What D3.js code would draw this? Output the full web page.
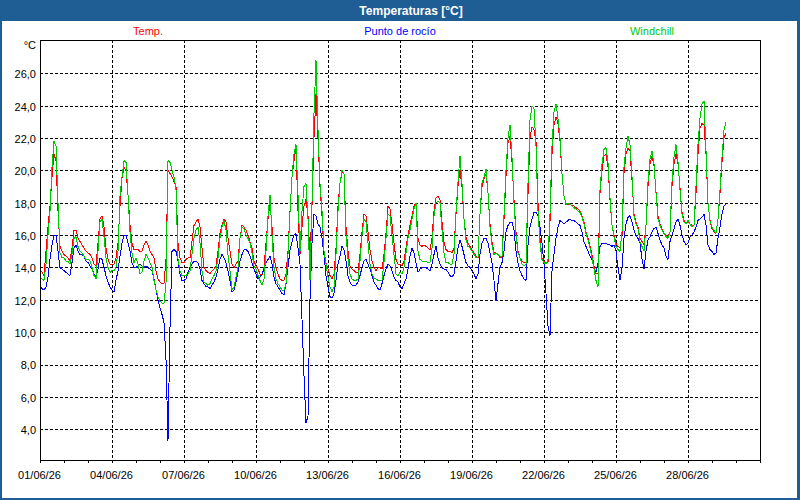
<!DOCTYPE html>
<html>
<head>
<meta charset="utf-8">
<script src="https://cdn.jsdelivr.net/npm/d3@7"></script>
<style>
  body { margin: 0; background: #fff; }
  svg { display: block; font-family: "Liberation Sans", Arial, sans-serif; }
</style>
</head>
<body>
<div id="chart"></div>
<script>
const width = 800;
const height = 500;
const plot = {left: 40, top: 40, right: 760, bottom: 460};

// readings every 2 hours, starting 01/06/26 00:00
const startDate = new Date(2026, 5, 1);
const endDate = new Date(2026, 6, 1);
const stepHours = 2;

const tickDays = [1, 4, 7, 10, 13, 16, 19, 22, 25, 28];
const yTicks = [4, 6, 8, 10, 12, 14, 16, 18, 20, 22, 24, 26];
const seriesNames = ["Temp.", "Punto de rocío", "Windchill"];

const temp = [
  13.9, 13.7, 13.5, 15.0, 16.5, 17.8, 19.6, 21.0, 20.6, 17.5, 15.3, 15.0,
  14.8, 14.7, 14.6, 14.4, 15.2, 16.3, 16.3, 15.8, 15.6, 15.4, 15.2, 15.0,
  14.9, 14.8, 14.6, 14.2, 14.1, 15.5, 17.0, 17.2, 16.5, 15.2, 14.5, 14.2,
  14.2, 14.2, 14.6, 15.5, 17.8, 19.5, 20.2, 20.0, 18.5, 16.6, 15.5, 15.1,
  15.1, 15.1, 15.0, 15.0, 15.4, 15.6, 15.4, 15.0, 14.8, 14.6, 13.8, 13.3,
  13.1, 13.0, 13.0, 14.5, 20.0, 19.8, 19.6, 19.3, 19.0, 15.5, 14.6, 14.3,
  14.3, 14.5, 14.6, 14.6, 15.6, 16.6, 16.8, 17.0, 16.5, 15.2, 14.0, 13.8,
  13.7, 13.6, 13.8, 13.9, 14.1, 15.0, 16.1, 16.6, 17.0, 16.8, 15.8, 15.0,
  14.2, 14.0, 14.2, 14.4, 15.8, 16.6, 16.5, 16.3, 16.0, 15.6, 15.2, 14.4,
  14.1, 13.9, 13.6, 13.5, 14.0, 15.5, 17.0, 18.0, 16.5, 14.6, 14.0, 13.6,
  13.3, 13.2, 13.2, 13.6, 15.0, 17.5, 19.6, 20.6, 21.4, 17.5, 14.8, 16.5,
  17.8, 18.2, 17.2, 14.6, 17.8, 22.0, 24.7, 22.0, 19.0, 17.2, 15.0, 14.3,
  13.9, 13.5, 13.3, 13.6, 15.2, 17.8, 19.2, 19.9, 19.8, 16.5, 15.0, 14.1,
  13.9, 13.8, 13.7, 13.7, 14.8, 16.2, 17.3, 17.2, 16.2, 15.1, 14.4, 14.0,
  13.8, 14.0, 14.0, 13.9, 14.8, 16.1, 17.8, 17.6, 16.7, 15.5, 14.5, 14.2,
  14.2, 14.1, 14.4, 15.2, 16.0, 16.6, 17.2, 17.8, 18.0, 15.8, 15.4, 15.3,
  15.4, 15.3, 15.2, 15.1, 15.8, 17.5, 18.3, 18.4, 18.2, 16.8, 15.6, 15.1,
  15.0, 15.0, 14.9, 15.2, 17.3, 19.0, 20.0, 19.0, 17.0, 15.9, 15.5, 15.3,
  15.1, 14.9, 14.7, 14.6, 17.3, 19.0, 19.5, 19.8, 18.6, 16.7, 15.6, 14.9,
  14.9, 14.8, 14.6, 14.6, 17.0, 19.6, 21.7, 22.1, 20.5, 18.2, 16.2, 15.0,
  14.6, 14.4, 14.3, 14.3, 18.5, 22.0, 22.7, 22.5, 21.8, 18.0, 15.8, 14.6,
  14.4, 14.3, 14.3, 16.8, 21.0, 22.8, 23.3, 22.9, 21.8, 19.8, 18.4, 17.9,
  17.9, 17.9, 17.8, 17.8, 17.7, 17.6, 17.5, 17.2, 16.8, 16.2, 15.8, 15.3,
  14.8, 14.1, 13.6, 13.6, 18.6, 20.0, 20.9, 21.0, 20.2, 18.2, 16.6, 16.0,
  15.5, 15.3, 15.2, 16.0, 19.8, 21.0, 21.4, 21.2, 19.4, 17.3, 16.8, 16.5,
  15.8, 15.6, 15.4, 16.6, 19.0, 20.4, 20.9, 20.3, 18.7, 17.2, 16.7, 16.4,
  16.1, 16.0, 15.9, 16.2, 19.0, 20.4, 21.0, 20.4, 18.9, 17.4, 16.9, 16.7,
  16.8, 16.7, 16.6, 16.6, 18.6, 21.0, 22.6, 22.9, 22.8, 21.0, 18.0, 16.9,
  16.4, 16.2, 16.1, 17.0, 18.6, 20.5, 22.0, 22.3
];

const dewPoint = [
  12.9, 12.7, 12.6, 12.8, 13.4, 14.5, 15.4, 16.0, 16.0, 15.0, 14.0, 13.9,
  13.8, 13.7, 13.6, 13.5, 14.3, 15.2, 15.4, 15.0, 14.8, 14.8, 14.7, 14.4,
  14.3, 14.1, 13.9, 13.6, 13.4, 13.9, 14.6, 14.5, 14.0, 13.5, 13.1, 12.8,
  12.6, 12.5, 13.2, 13.8, 14.7, 15.5, 16.0, 16.0, 15.5, 15.0, 14.3, 14.0,
  14.0, 14.1, 14.2, 14.1, 14.0, 14.1, 14.0, 13.9, 13.8, 13.3, 12.6, 12.0,
  11.5, 11.1, 10.6, 8.3, 3.3, 10.3, 15.0, 15.1, 15.0, 14.4, 13.6, 13.2,
  13.2, 13.3, 13.7, 14.0, 14.2, 14.4, 14.4, 14.3, 13.9, 13.2, 13.0, 12.8,
  12.8, 12.7, 12.9, 13.1, 13.4, 13.9, 14.5, 14.8, 14.6, 14.3, 13.8, 13.2,
  12.5, 12.6, 13.1, 13.7, 14.4, 14.8, 15.1, 15.1, 15.0, 14.7, 14.3, 13.9,
  13.6, 13.3, 13.4, 13.6, 13.9, 14.3, 14.5, 14.7, 14.2, 13.4, 13.0, 12.8,
  12.6, 12.4, 12.3, 13.0, 14.0, 15.1, 15.6, 16.0, 16.1, 15.2, 14.2, 10.8,
  7.3, 4.4, 4.8, 12.0, 15.5, 17.3, 17.2, 16.7, 16.5, 15.8, 14.8, 13.5,
  12.8, 12.2, 12.1, 12.4, 13.2, 14.2, 14.7, 15.3, 15.1, 14.4, 13.5, 13.1,
  12.9, 12.9, 12.9, 13.1, 13.5, 14.0, 14.4, 14.5, 14.2, 13.9, 13.5, 13.1,
  12.9, 12.7, 12.6, 13.0, 13.5, 13.9, 14.2, 14.1, 13.8, 13.4, 13.2, 13.1,
  12.8, 12.7, 13.0, 13.3, 13.9, 14.7, 15.2, 14.9, 14.3, 13.7, 13.9, 14.0,
  14.0, 14.0, 13.9, 13.8, 14.2, 14.8, 15.3, 14.6, 14.2, 14.0, 13.9, 13.9,
  13.7, 13.5, 13.4, 13.6, 14.4, 15.2, 15.7, 15.3, 14.8, 14.3, 14.1, 14.0,
  13.8, 13.6, 13.3, 13.6, 14.8, 15.5, 15.8, 15.8, 15.5, 14.9, 14.3, 13.2,
  11.9, 13.0, 14.0, 14.3, 15.0, 16.2, 16.6, 16.8, 16.8, 16.3, 15.0, 14.3,
  13.8, 13.5, 13.3, 13.2, 15.4, 16.5, 17.0, 17.4, 17.4, 17.2, 16.5, 15.5,
  14.2, 12.4, 10.4, 9.8, 13.8, 14.8, 15.8, 16.5, 16.9, 16.8, 16.7, 16.8,
  16.9, 17.0, 16.9, 16.9, 16.8, 16.7, 16.6, 16.2, 15.6, 15.3, 15.0, 14.7,
  14.5, 13.9, 13.7, 14.3, 15.3, 15.5, 15.5, 15.5, 15.4, 15.4, 15.3, 15.4,
  15.0, 14.0, 13.2, 14.0, 15.8, 16.7, 17.1, 17.2, 16.8, 16.3, 16.0, 15.8,
  15.5, 14.5, 13.9, 15.0, 15.7, 15.9, 16.2, 16.4, 16.5, 16.1, 15.7, 15.4,
  15.2, 14.7, 14.5, 15.6, 16.0, 16.4, 16.8, 17.0, 16.6, 16.0, 15.6, 15.4,
  15.5, 15.9, 16.0, 16.2, 16.5, 16.9, 17.0, 17.1, 17.3, 16.6, 15.4, 15.1,
  15.0, 14.8, 14.9, 15.8, 16.5, 17.3, 17.8, 17.9
];

const windchill = [
  13.4, 13.3, 13.2, 14.2, 16.0, 17.5, 20.2, 21.8, 21.5, 18.0, 14.9, 14.6,
  14.6, 14.4, 14.4, 14.2, 14.8, 15.8, 15.9, 15.3, 15.0, 14.9, 14.7, 14.5,
  14.5, 14.4, 14.0, 13.5, 13.3, 15.0, 16.8, 17.0, 15.9, 14.6, 14.0, 13.7,
  13.8, 13.8, 14.0, 15.0, 18.4, 19.6, 20.6, 20.5, 18.5, 16.2, 14.9, 14.3,
  14.6, 14.2, 13.6, 13.7, 14.4, 14.8, 14.6, 14.3, 14.0, 13.2, 12.6, 12.2,
  11.9, 11.8, 11.8, 13.0, 20.6, 20.5, 20.0, 19.6, 18.8, 14.5, 13.8, 13.5,
  13.5, 13.5, 13.6, 13.8, 14.8, 15.8, 16.3, 16.5, 15.5, 13.8, 13.1, 13.0,
  12.9, 13.0, 13.3, 13.5, 13.8, 14.6, 15.8, 16.5, 16.9, 16.3, 14.8, 13.8,
  12.6, 12.8, 13.4, 14.0, 15.8, 16.5, 16.4, 16.0, 15.8, 15.5, 14.9, 14.1,
  13.9, 13.5, 13.2, 12.9, 13.3, 15.0, 17.2, 18.5, 16.0, 14.0, 13.3, 13.0,
  12.8, 12.6, 12.6, 13.0, 14.8, 17.4, 19.6, 21.0, 21.6, 18.5, 15.0, 17.5,
  19.0, 19.2, 17.0, 13.2, 18.0, 23.5, 26.8, 22.5, 19.2, 17.5, 15.0, 14.2,
  13.4, 12.8, 12.5, 12.8, 14.8, 17.5, 19.2, 20.0, 19.8, 16.0, 14.5, 13.6,
  13.3, 13.2, 13.2, 13.3, 14.4, 16.0, 17.0, 16.8, 15.5, 14.2, 13.6, 13.3,
  13.3, 13.2, 13.2, 13.2, 14.3, 15.8, 17.3, 17.2, 16.0, 14.8, 13.6, 13.5,
  13.7, 13.6, 14.0, 14.9, 15.8, 16.3, 17.0, 17.6, 18.0, 15.0, 14.5, 14.4,
  14.4, 14.4, 14.3, 14.3, 15.2, 17.2, 18.0, 18.1, 18.0, 16.3, 14.9, 14.3,
  14.3, 14.2, 14.2, 14.8, 17.4, 19.3, 20.9, 19.2, 17.0, 15.7, 15.3, 15.2,
  15.0, 14.8, 14.6, 14.6, 17.3, 19.2, 19.6, 20.1, 18.6, 16.5, 15.4, 14.8,
  14.9, 14.8, 14.7, 14.7, 17.2, 20.0, 22.0, 22.8, 20.8, 18.0, 16.0, 14.9,
  14.6, 14.2, 14.1, 14.2, 19.2, 23.1, 24.0, 23.8, 21.5, 17.5, 15.5, 14.5,
  14.3, 14.2, 14.5, 17.3, 21.5, 23.6, 24.1, 23.2, 22.0, 19.8, 18.4, 17.9,
  18.0, 17.9, 17.8, 17.7, 17.6, 17.5, 17.4, 17.1, 16.7, 16.1, 15.7, 15.2,
  14.6, 13.9, 13.2, 12.8, 18.8, 20.4, 21.3, 21.4, 20.5, 18.3, 16.6, 15.9,
  15.3, 15.1, 15.0, 16.2, 20.2, 21.4, 22.1, 21.6, 19.6, 17.2, 16.7, 16.4,
  15.6, 15.3, 15.0, 16.6, 19.3, 20.7, 21.2, 20.4, 18.6, 17.0, 16.6, 16.3,
  16.1, 15.9, 15.8, 16.2, 19.3, 20.8, 21.6, 20.5, 18.8, 17.3, 16.8, 16.7,
  16.9, 16.7, 16.5, 16.6, 19.0, 21.6, 23.2, 24.1, 24.3, 21.2, 18.0, 16.9,
  16.5, 16.3, 16.1, 17.0, 18.8, 20.8, 22.5, 23.0
];

const seriesColors = ["#ff0000", "#0000ff", "#00c800"];
const allSeries = [temp, dewPoint, windchill];

const svg = d3.select("#chart")
    .append("svg")
    .attr("width", width)
    .attr("height", height);

// window frame + title bar
svg.append("rect")
    .attr("width", width)
    .attr("height", height)
    .attr("fill", "#1f5d95");
svg.append("rect")
    .attr("x", 2)
    .attr("y", 21)
    .attr("width", 795)
    .attr("height", 477)
    .attr("fill", "#fff");
svg.append("text")
    .attr("x", 411)
    .attr("y", 15)
    .attr("text-anchor", "middle")
    .attr("fill", "#fff")
    .style("font-weight", "bold")
    .style("font-size", "12px")
    .text("Temperaturas [°C]");

const x = d3.scaleTime()
    .domain([startDate, endDate])
    .range([plot.left, plot.right]);

const y = d3.scaleLinear()
    .domain([2.1, 28.06])
    .range([plot.bottom, plot.top]);

const fmtNum = d => d3.format(".1f")(d).replace(".", ",");

// grid
const grid = svg.append("g")
    .attr("stroke", "#000")
    .attr("stroke-dasharray", "3,2")
    .attr("shape-rendering", "crispEdges");

grid.selectAll("line.h")
    .data(yTicks)
    .enter()
    .append("line")
    .attr("x1", plot.left)
    .attr("x2", plot.right)
    .attr("y1", d => Math.round(y(d)) + 0.5)
    .attr("y2", d => Math.round(y(d)) + 0.5);

grid.selectAll("line.v")
    .data(tickDays.slice(1))
    .enter()
    .append("line")
    .attr("x1", d => Math.round(x(new Date(2026, 5, d))) + 0.5)
    .attr("x2", d => Math.round(x(new Date(2026, 5, d))) + 0.5)
    .attr("y1", plot.top)
    .attr("y2", plot.bottom);

// axes
const minorAxis = svg.append("g")
    .attr("transform", `translate(0, ${plot.bottom})`)
    .call(d3.axisBottom(x).ticks(d3.timeDay.every(1)).tickSize(3).tickFormat(""));
minorAxis.select(".domain").remove();

const xAxis = svg.append("g")
    .attr("transform", `translate(0, ${plot.bottom})`)
    .call(d3.axisBottom(x)
        .tickValues(tickDays.map(d => new Date(2026, 5, d)))
        .tickSize(3)
        .tickPadding(8)
        .tickFormat(d3.timeFormat("%d/%m/%y")));
xAxis.select(".domain").remove();
xAxis.selectAll("text").attr("dx", "-1");

const yAxis = svg.append("g")
    .attr("transform", `translate(${plot.left}, 0)`)
    .call(d3.axisLeft(y).tickValues(yTicks).tickSize(0).tickPadding(4).tickFormat(fmtNum));
yAxis.select(".domain").remove();
yAxis.selectAll("text").attr("dy", "0.4em");

svg.selectAll(".tick text")
    .attr("fill", "#000")
    .style("font-family", "'Liberation Sans', Arial, sans-serif")
    .style("font-size", "11px");
svg.selectAll(".tick line").attr("shape-rendering", "crispEdges");

svg.append("text")
    .attr("x", 36)
    .attr("y", 49)
    .attr("text-anchor", "end")
    .style("font-size", "11px")
    .text("°C");

// series
svg.append("clipPath")
    .attr("id", "clip")
    .append("rect")
    .attr("x", plot.left)
    .attr("y", plot.top)
    .attr("width", plot.right - plot.left)
    .attr("height", plot.bottom - plot.top);

const line = d3.line()
    .x((d, i) => x(d3.timeHour.offset(startDate, i * stepHours)))
    .y(d => y(d));

svg.append("g")
    .attr("clip-path", "url(#clip)")
    .selectAll("path")
    .data(allSeries)
    .enter()
    .append("path")
    .attr("d", line)
    .attr("fill", "none")
    .attr("stroke", (d, i) => seriesColors[i])
    .attr("stroke-width", 1)
    .attr("shape-rendering", "crispEdges");

// plot frame
svg.append("rect")
    .attr("x", plot.left + 0.5)
    .attr("y", plot.top + 0.5)
    .attr("width", plot.right - plot.left)
    .attr("height", plot.bottom - plot.top)
    .attr("fill", "none")
    .attr("stroke", "#000")
    .attr("shape-rendering", "crispEdges");

// legend labels above the plot
const legendFrac = [0.15, 0.5, 0.85];
svg.selectAll("text.legend")
    .data(seriesNames)
    .enter()
    .append("text")
    .attr("class", "legend")
    .attr("x", (d, i) => plot.left + (plot.right - plot.left) * legendFrac[i])
    .attr("y", 35)
    .attr("text-anchor", "middle")
    .attr("fill", (d, i) => seriesColors[i])
    .style("font-size", "11px")
    .text(d => d);
</script>
</body>
</html>
